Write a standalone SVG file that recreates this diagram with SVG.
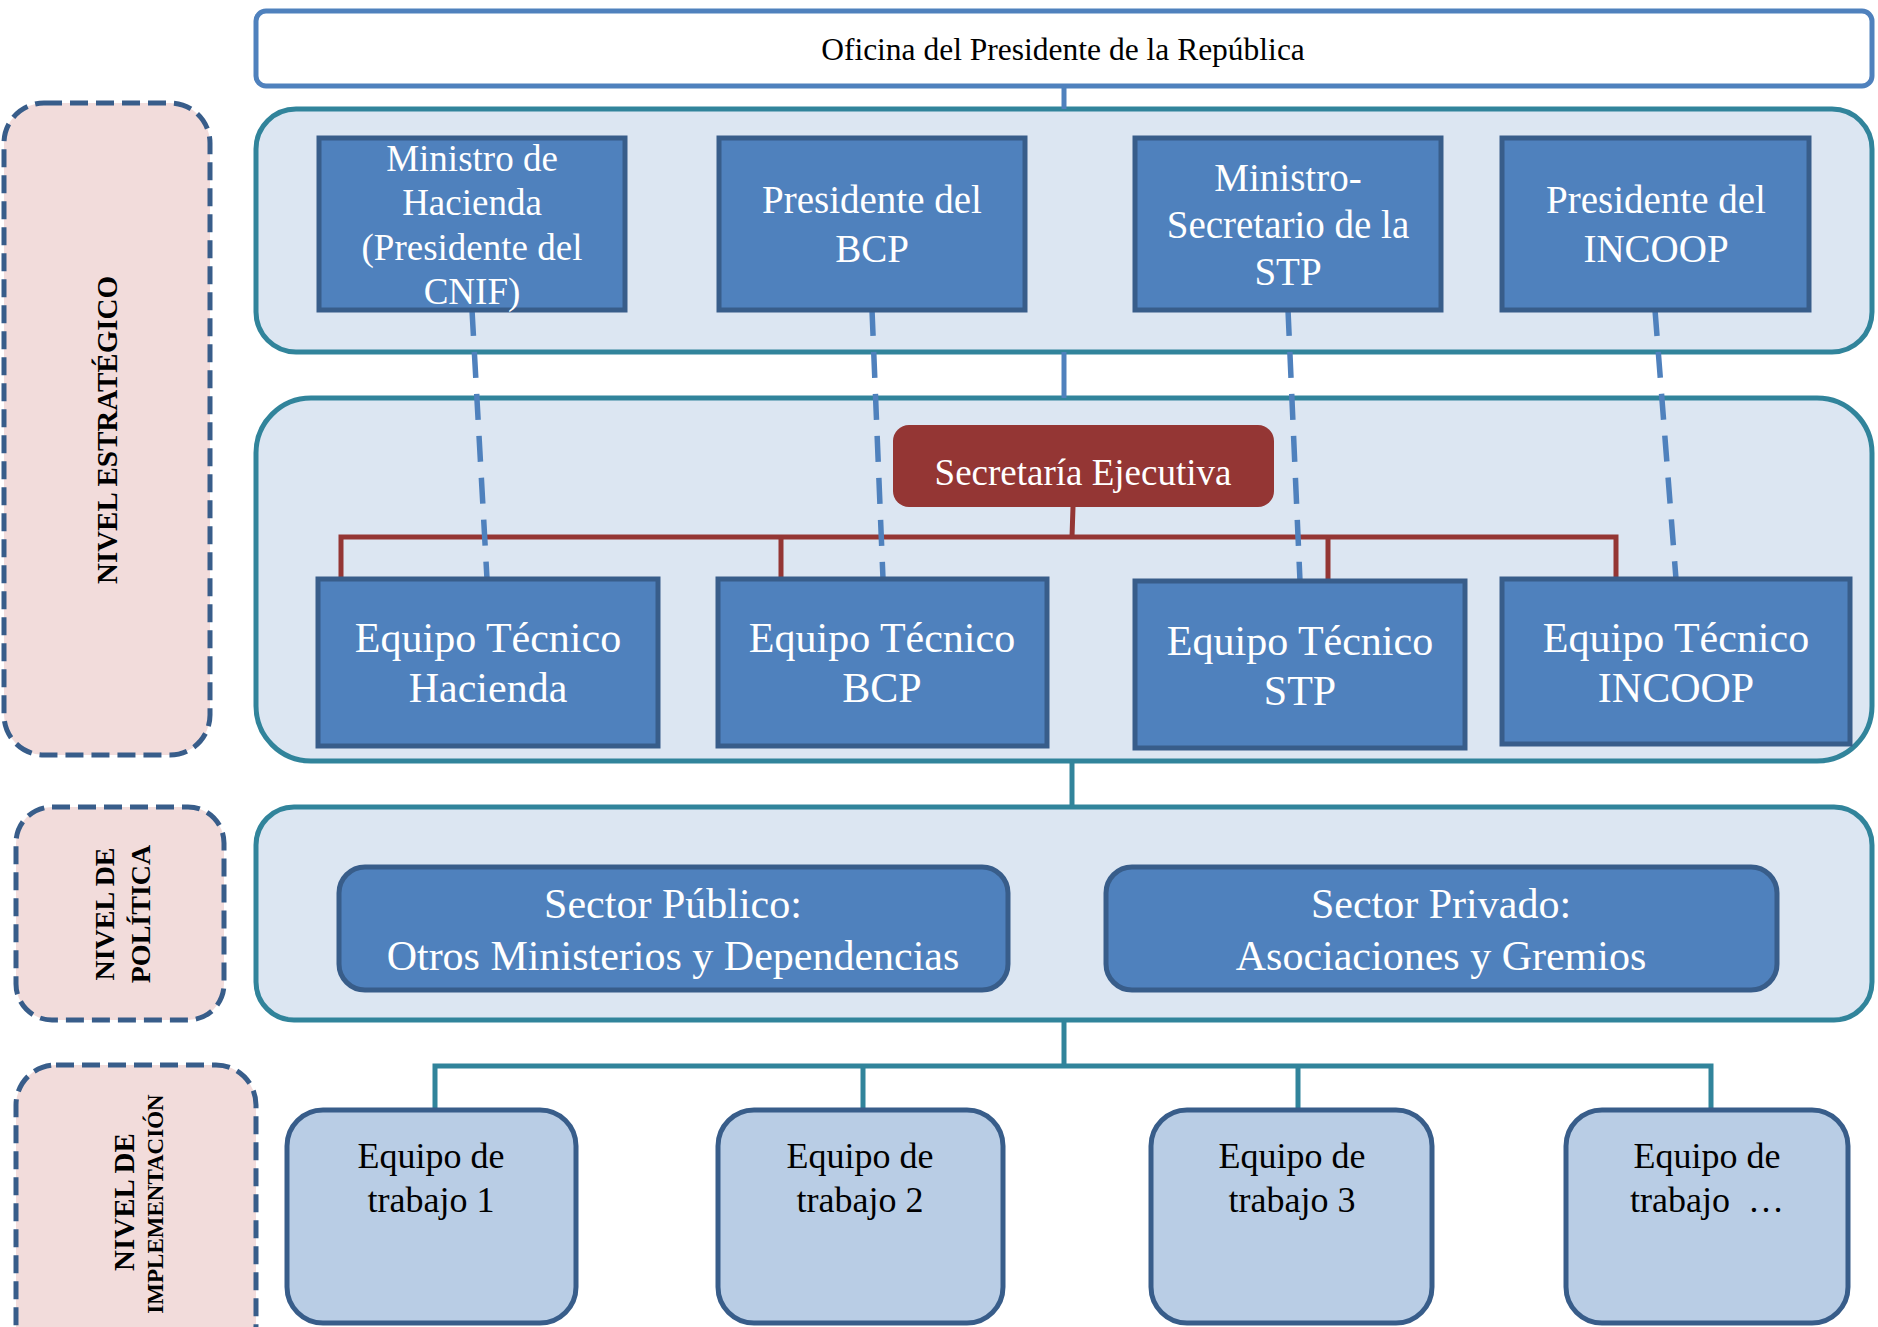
<svg xmlns="http://www.w3.org/2000/svg" width="1878" height="1327" viewBox="0 0 1878 1327">
<style>
.band{fill:#DCE6F2;stroke:#31849B;stroke-width:5}
.lvl{fill:#F2DCDB;stroke:#385D8A;stroke-width:5;stroke-dasharray:18 8}
.lvlt{font-family:"Liberation Serif","Times New Roman",serif;font-weight:bold;fill:#000;text-anchor:middle}
.node{fill:#4F81BD;stroke:#385D8A;stroke-width:5}
.nt{font-family:"Liberation Serif","Times New Roman",serif;fill:#fff;text-anchor:middle}
.team{fill:#B9CDE5;stroke:#385D8A;stroke-width:5}
.tt{font-family:"Liberation Serif","Times New Roman",serif;fill:#000;text-anchor:middle;font-size:36px;white-space:pre}
.blue{stroke:#4F81BD;stroke-width:5;fill:none}
.teal{stroke:#31849B;stroke-width:5;fill:none}
.red{stroke:#943634;stroke-width:5;fill:none}
.dash{stroke:#4F81BD;stroke-width:5.5;fill:none;stroke-dasharray:26 16}
</style>

<g id="levels">
  <g id="nivel-estrategico">
    <rect class="lvl" x="4" y="103" width="206" height="652" rx="40"/>
    <text class="lvlt" font-size="29" transform="translate(117,430) rotate(-90)">NIVEL ESTRATÉGICO</text>
  </g>
  <g id="nivel-politica">
    <rect class="lvl" x="16" y="807" width="208" height="213" rx="36"/>
    <text class="lvlt" font-size="28" transform="translate(114,914) rotate(-90)">NIVEL DE</text>
    <text class="lvlt" font-size="28" transform="translate(150,914) rotate(-90)">POLÍTICA</text>
  </g>
  <g id="nivel-implementacion">
    <rect class="lvl" x="16" y="1065" width="240" height="300" rx="40"/>
    <text class="lvlt" font-size="29" transform="translate(134,1202) rotate(-90)">NIVEL DE</text>
    <text class="lvlt" font-size="23" transform="translate(163,1204) rotate(-90)">IMPLEMENTACIÓN</text>
  </g>
</g>

<g id="bands">
  <rect id="band-estrategico" class="band" x="256" y="109" width="1616" height="243" rx="40"/>
  <rect id="band-ejecutivo" class="band" x="256" y="398" width="1616" height="363" rx="55"/>
  <rect id="band-politica" class="band" x="256" y="807" width="1616" height="213" rx="38"/>
</g>

<g id="connectors">
  <line class="blue" x1="1064" y1="86" x2="1064" y2="109"/>
  <line class="blue" x1="1064" y1="352" x2="1064" y2="398"/>
  <line class="teal" x1="1072" y1="761" x2="1072" y2="807"/>
  <path class="red" d="M1073 507 L1072 537 M341 580 L341 537 L1616 537 L1616 580 M781 537 L781 580 M1328 537 L1328 580"/>
  <line class="dash" x1="472" y1="310" x2="487" y2="579"/>
  <line class="dash" x1="872" y1="310" x2="883" y2="579"/>
  <line class="dash" x1="1288" y1="310" x2="1300" y2="581"/>
  <line class="dash" x1="1655" y1="310" x2="1676" y2="579"/>
  <path class="teal" d="M1064 1020 L1064 1066 M435 1110 L435 1066 L1711 1066 L1711 1110 M863 1066 L863 1110 M1298 1066 L1298 1110"/>
</g>

<g id="oficina">
  <rect x="256" y="11" width="1616" height="75" rx="10" fill="#fff" stroke="#4F81BD" stroke-width="5"/>
  <text x="1063" y="60" font-family="Liberation Serif, Times New Roman, serif" font-size="31.5" text-anchor="middle" fill="#000">Oficina del Presidente de la República</text>
</g>

<g id="ministro-hacienda">
  <rect class="node" x="319" y="138" width="306" height="172"/>
  <text class="nt" font-size="37"><tspan x="472" y="171">Ministro de</tspan><tspan x="472" y="215">Hacienda</tspan><tspan x="472" y="260">(Presidente del</tspan><tspan x="472" y="304">CNIF)</tspan></text>
</g>
<g id="presidente-bcp">
  <rect class="node" x="719" y="138" width="306" height="172"/>
  <text class="nt" font-size="39"><tspan x="872" y="213">Presidente del</tspan><tspan x="872" y="262">BCP</tspan></text>
</g>
<g id="ministro-stp">
  <rect class="node" x="1135" y="138" width="306" height="172"/>
  <text class="nt" font-size="39"><tspan x="1288" y="191">Ministro-</tspan><tspan x="1288" y="238">Secretario de la</tspan><tspan x="1288" y="285">STP</tspan></text>
</g>
<g id="presidente-incoop">
  <rect class="node" x="1502" y="138" width="307" height="172"/>
  <text class="nt" font-size="39"><tspan x="1656" y="213">Presidente del</tspan><tspan x="1656" y="262">INCOOP</tspan></text>
</g>

<g id="secretaria-ejecutiva">
  <rect x="893" y="425" width="381" height="82" rx="16" fill="#943634"/>
  <text class="nt" font-size="37" x="1083" y="485">Secretaría Ejecutiva</text>
</g>

<g id="equipo-hacienda">
  <rect class="node" x="318" y="579" width="340" height="167"/>
  <text class="nt" font-size="42"><tspan x="488" y="652">Equipo Técnico</tspan><tspan x="488" y="702">Hacienda</tspan></text>
</g>
<g id="equipo-bcp">
  <rect class="node" x="718" y="579" width="329" height="167"/>
  <text class="nt" font-size="42"><tspan x="882" y="652">Equipo Técnico</tspan><tspan x="882" y="702">BCP</tspan></text>
</g>
<g id="equipo-stp">
  <rect class="node" x="1135" y="581" width="330" height="167"/>
  <text class="nt" font-size="42"><tspan x="1300" y="655">Equipo Técnico</tspan><tspan x="1300" y="705">STP</tspan></text>
</g>
<g id="equipo-incoop">
  <rect class="node" x="1502" y="579" width="348" height="165"/>
  <text class="nt" font-size="42"><tspan x="1676" y="652">Equipo Técnico</tspan><tspan x="1676" y="702">INCOOP</tspan></text>
</g>

<g id="sector-publico">
  <rect class="node" x="339" y="867" width="669" height="123" rx="26"/>
  <text class="nt" font-size="42"><tspan x="673" y="918">Sector Público:</tspan><tspan x="673" y="970">Otros Ministerios y Dependencias</tspan></text>
</g>
<g id="sector-privado">
  <rect class="node" x="1106" y="867" width="671" height="123" rx="26"/>
  <text class="nt" font-size="42"><tspan x="1441" y="918">Sector Privado:</tspan><tspan x="1441" y="970">Asociaciones y Gremios</tspan></text>
</g>

<g id="equipo-trabajo-1">
  <rect class="team" x="287" y="1110" width="289" height="213" rx="36"/>
  <text class="tt"><tspan x="431" y="1168">Equipo de</tspan><tspan x="431" y="1212">trabajo 1</tspan></text>
</g>
<g id="equipo-trabajo-2">
  <rect class="team" x="718" y="1110" width="285" height="213" rx="36"/>
  <text class="tt"><tspan x="860" y="1168">Equipo de</tspan><tspan x="860" y="1212">trabajo 2</tspan></text>
</g>
<g id="equipo-trabajo-3">
  <rect class="team" x="1151" y="1110" width="281" height="213" rx="36"/>
  <text class="tt"><tspan x="1292" y="1168">Equipo de</tspan><tspan x="1292" y="1212">trabajo 3</tspan></text>
</g>
<g id="equipo-trabajo-n">
  <rect class="team" x="1566" y="1110" width="282" height="213" rx="36"/>
  <text class="tt"><tspan x="1707" y="1168">Equipo de</tspan><tspan x="1707" y="1212">trabajo  …</tspan></text>
</g>
</svg>
